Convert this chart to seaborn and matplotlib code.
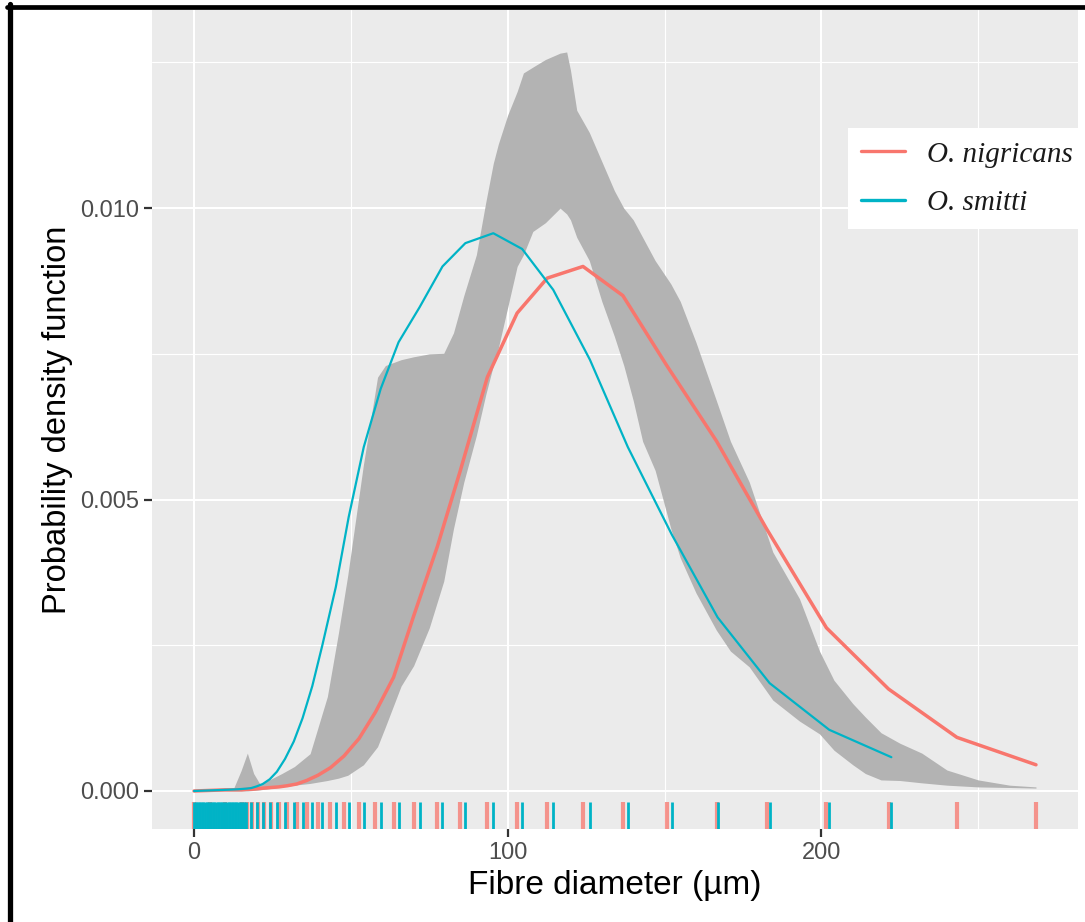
import matplotlib
matplotlib.use("Agg")
import matplotlib.pyplot as plt
from matplotlib.lines import Line2D
from matplotlib.ticker import MultipleLocator
import pandas as pd
import seaborn as sns

# ---- data -----------------------------------------------------------------
species = ["O. nigricans", "O. smitti"]
colours = ["#F8766D", "#00B3C6"]

# empirical density of fibre diameters, evaluated at the observed values
nigricans_x = [0, 5, 10, 15.2, 16.8, 18.4, 20.3, 22.3, 24.5, 27.0, 29.7, 32.7,
               35.9, 39.5, 43.5, 47.8, 52.6, 57.8, 63.6, 70.0, 77.6, 84.9,
               93.5, 103.0, 112.6, 124.0, 136.7, 150.7, 166.6, 182.5, 201.6,
               221.4, 243.2, 268.4]
nigricans_pdf = [0, 0.00001, 0.00002, 0.00002, 0.00003, 0.00003, 0.00004,
                 0.00005, 0.00006, 0.00007, 0.00009, 0.00012, 0.00018, 0.00027,
                 0.0004, 0.0006, 0.0009, 0.00135, 0.00195, 0.0030, 0.0042,
                 0.0055, 0.0071, 0.0082, 0.0088, 0.0090, 0.0085, 0.0073,
                 0.0060, 0.0045, 0.0028, 0.00175, 0.00092, 0.00045]

smitti_x = [0, 5, 10, 14, 16.6, 18.2, 20.0, 21.9, 24.1, 26.4, 29.0, 31.8,
            34.6, 37.7, 40.9, 45.2, 49.3, 54.1, 59.5, 65.2, 71.9, 79.2, 86.5,
            95.4, 104.6, 114.5, 126.2, 138.3, 152.3, 166.9, 183.5, 202.5,
            222.3]
smitti_pdf = [0, 0.00001, 0.00002, 0.00003, 0.00004, 0.00005, 0.00008,
              0.00012, 0.0002, 0.00033, 0.00055, 0.00085, 0.00125, 0.0018,
              0.0025, 0.0035, 0.0047, 0.0059, 0.0069, 0.0077, 0.0083, 0.0090,
              0.0094, 0.00957, 0.0093, 0.0086, 0.0074, 0.0059, 0.0044,
              0.00298, 0.00185, 0.00105, 0.00058]

# many small-diameter O. smitti observations packed near zero
smitti_rug_low = [0.5, 1.0, 1.5, 2.0, 2.5, 3.0, 3.5, 4.0, 4.5, 5.5, 6.0, 6.5,
                  7.0, 7.5, 8.0, 8.5, 9.0, 9.5, 10.5, 11.0, 11.5, 12.0, 12.5,
                  13.0, 13.5, 14.5, 15.0, 15.5, 16.0]

# envelope of the simulated densities
band_x = [0, 10, 12.5, 15, 17, 19, 21, 24, 28, 32, 37, 42.5, 46, 49, 54, 58.5,
          61, 66, 70, 75, 79.6, 82.7, 86, 90, 93, 95.4, 97, 100, 103, 105, 108,
          112, 116.7, 118.8, 120, 122, 126, 130, 134, 137, 140, 143, 147, 152,
          155, 160, 166.5, 171, 177, 184.5, 193, 199.4, 204, 210, 214, 219,
          225, 232, 240, 250, 260, 268.4]
band_lower = [0, 0, 0, 0, 0, 0.00001, 0.00002, 0.00004, 0.00007, 0.0001,
              0.00013, 0.00018, 0.00022, 0.00027, 0.00045, 0.00076, 0.0011,
              0.0018, 0.00215, 0.0028, 0.0036, 0.0045, 0.0053, 0.0061, 0.0068,
              0.0073, 0.0076, 0.0083, 0.0090, 0.0092, 0.0096, 0.00975, 0.0100,
              0.0099, 0.0098, 0.0095, 0.0091, 0.0084, 0.0078, 0.0073, 0.0067,
              0.0060, 0.0055, 0.0045, 0.0040, 0.0034, 0.00276, 0.0024,
              0.00213, 0.00156, 0.0012, 0.00098, 0.0007, 0.00045, 0.0003,
              0.00019, 0.00018, 0.00014, 0.0001, 0.00007, 0.00006, 0.00005]
band_upper = [0, 0.00001, 0.00003, 0.00035, 0.00065, 0.0003, 0.00012, 0.00019,
              0.0003, 0.00042, 0.00064, 0.00162, 0.0027, 0.0037, 0.0056,
              0.0071, 0.0073, 0.0074, 0.00745, 0.0075, 0.00751, 0.00786,
              0.0085, 0.0092, 0.0101, 0.01077, 0.0111, 0.0116, 0.0120,
              0.01232, 0.01242, 0.01255, 0.01266, 0.01268, 0.01237, 0.01168,
              0.0113, 0.0108, 0.0103, 0.0100, 0.0098, 0.0095, 0.0091, 0.0087,
              0.0084, 0.0077, 0.0067, 0.0060, 0.0053, 0.0041, 0.0033, 0.0024,
              0.0019, 0.0015, 0.00127, 0.001, 0.00082, 0.00065, 0.00036,
              0.00019, 0.0001, 0.00007]

x_ticks = [0, 100, 200]
y_ticks = [0.000, 0.005, 0.010]
y_tick_labels = ["0.000", "0.005", "0.010"]

# ---- style ----------------------------------------------------------------
sns.set_theme(style="darkgrid", rc={
    "axes.facecolor": "#EBEBEB",
    "grid.color": "white",
    "axes.edgecolor": "none",
    "xtick.bottom": True,
    "ytick.left": True,
    "xtick.color": "#333333",
    "ytick.color": "#333333",
    "xtick.major.size": 5.5,
    "ytick.major.size": 5.5,
    "xtick.major.width": 1.6,
    "ytick.major.width": 1.6,
})
plt.rcParams["font.family"] = ["Liberation Sans", "DejaVu Sans"]

W, H = 1085, 922
fig = plt.figure(figsize=(W / 100, H / 100), dpi=100)
fig.patch.set_facecolor("white")
left, right, top, bottom = 152, 1078, 10, 829
ax = fig.add_axes([left / W, 1 - bottom / H, (right - left) / W, (bottom - top) / H])

# envelope
ax.fill_between(band_x, band_lower, band_upper, color="#B3B3B3", lw=0, zorder=2)

# density curves
df = pd.concat([
    pd.DataFrame({"diameter": nigricans_x, "pdf": nigricans_pdf, "species": species[0]}),
    pd.DataFrame({"diameter": smitti_x, "pdf": smitti_pdf, "species": species[1]}),
], ignore_index=True)
widths = [2.5, 1.6]
for sp, col, lw in zip(species, colours, widths):
    sns.lineplot(data=df[df["species"] == sp], x="diameter", y="pdf",
                 color=col, linewidth=lw, sort=False, estimator=None, ax=ax,
                 legend=False, zorder=3)

# rugs along the bottom edge
sns.rugplot(x=nigricans_x, height=0.033, color=colours[0], linewidth=3.0,
            alpha=0.75, ax=ax, expand_margins=False, zorder=4)
sns.rugplot(x=smitti_rug_low + smitti_x, height=0.033, color=colours[1],
            linewidth=2.0, ax=ax, expand_margins=False, zorder=5)

# ---- axes -----------------------------------------------------------------
ax.set_xlim(-13.4, 281.8)
ax.set_ylim(-0.000652, 0.01340)
ax.set_xticks(x_ticks)
ax.set_xticklabels([str(v) for v in x_ticks])
ax.set_yticks(y_ticks)
ax.set_yticklabels(y_tick_labels)
ax.xaxis.set_minor_locator(MultipleLocator(50))
ax.yaxis.set_minor_locator(MultipleLocator(0.0025))
ax.grid(which="major", color="white", lw=1.5)
ax.grid(which="minor", color="white", lw=0.8)
ax.tick_params(axis="both", which="major", direction="out", length=5.5,
               width=1.6, color="#333333", labelsize=17, labelcolor="#4D4D4D",
               pad=4, bottom=True, left=True)
ax.tick_params(axis="both", which="minor", length=0)
for s in ax.spines.values():
    s.set_visible(False)

ax.set_xlabel("Fibre diameter (µm)", fontsize=24, color="black", labelpad=4)
ax.set_ylabel("Probability density function", fontsize=23.5, color="black", labelpad=5)

handles = [Line2D([], [], color=c, lw=2.4) for c in colours]
leg = ax.legend(handles, species, loc="upper left",
                bbox_to_anchor=(848 / W, 1 - 128 / H), bbox_transform=fig.transFigure,
                borderaxespad=0,
                prop={"family": "Liberation Serif", "style": "italic", "size": 21},
                frameon=True, facecolor="white", edgecolor="none", framealpha=1,
                fancybox=False, borderpad=0.45, handlelength=1.5,
                handletextpad=0.75, labelspacing=0.75)
for t in leg.get_texts():
    t.set_color("#1A1A1A")

# outer black frame
fig.add_artist(Line2D([9.5 / W, 9.5 / W], [0, 1 - 4.5 / H], color="black",
                      lw=3.8, transform=fig.transFigure))
fig.add_artist(Line2D([7 / W, 1.0], [1 - 7 / H, 1 - 7 / H], color="black",
                      lw=3.4, transform=fig.transFigure))

fig.savefig("out.png", dpi=100, facecolor="white")
